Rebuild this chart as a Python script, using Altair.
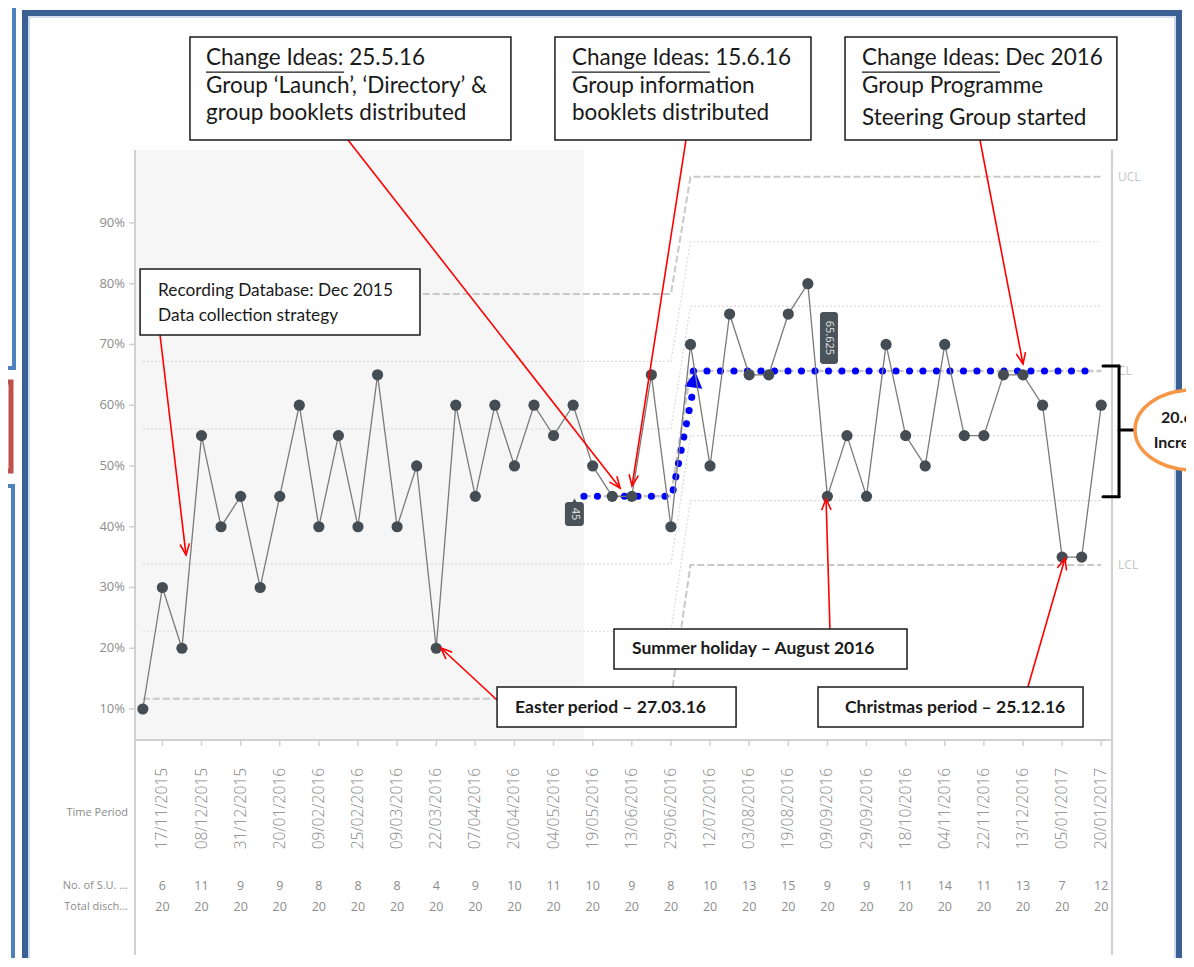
import math
import altair as alt
import pandas as pd

# ---------------- data ----------------
PCT = [10, 30, 20, 55, 40, 45, 30, 45, 60, 40, 55, 40, 65, 40, 50, 20, 60, 45, 60, 50,
       60, 55, 60, 50, 45, 45, 65, 40, 70, 50, 75, 65, 65, 75, 80, 45, 55, 45, 70, 55,
       50, 70, 55, 55, 65, 65, 60, 35, 35, 60]
LABEL_POS = [2, 4, 6, 8, 10, 12, 14, 16, 18, 20, 22, 24, 26, 28, 30, 32, 34, 36, 38, 40,
             42, 44, 46, 48, 50]
DATES = ["17/11/2015", "08/12/2015", "31/12/2015", "20/01/2016", "09/02/2016",
         "25/02/2016", "09/03/2016", "22/03/2016", "07/04/2016", "20/04/2016",
         "04/05/2016", "19/05/2016", "13/06/2016", "29/06/2016", "12/07/2016",
         "03/08/2016", "19/08/2016", "09/09/2016", "29/09/2016", "18/10/2016",
         "04/11/2016", "22/11/2016", "13/12/2016", "05/01/2017", "20/01/2017"]
SU_COUNTS = [6, 11, 9, 9, 8, 8, 8, 4, 9, 10, 11, 10, 9, 8, 10, 13, 15, 9, 9, 11, 14, 11, 13, 7, 12]
TOTALS = [20, 20, 20, 20, 20, 20, 20, 20, 20, 20, 20, 20, 20, 20, 20, 20, 20, 20, 20, 20,
          20, 20, 20, 20, 20]
Y_TICKS = [10, 20, 30, 40, 50, 60, 70, 80, 90]

LEVELS = ["LCL", "-2s", "-1s", "CL", "+1s", "+2s", "UCL"]
PHASE1 = [11.7, 22.8, 33.9, 45.0, 56.1, 67.2, 78.3]
PHASE2 = [33.7, 44.3, 55.0, 65.625, 76.3, 86.9, 97.6]
PHASE1_LAST, PHASE2_FIRST, LAST = 28, 29, 50
BASELINE_END = 23.55

# ---------------- layout ----------------
W, H = 977, 590
X_DOMAIN = [0.6, 50.55]
Y_DOMAIN = [4.9, 102.0]
SX = W / (X_DOMAIN[1] - X_DOMAIN[0])
SY = H / (Y_DOMAIN[1] - Y_DOMAIN[0])
XS = alt.Scale(domain=X_DOMAIN, nice=False, zero=False)
YS = alt.Scale(domain=Y_DOMAIN, nice=False, zero=False)

TXT = "#1a1a1a"
FONT = "Lato"
AXF = "Open Sans"
AXC = "#8c8c8c"
LINEC = "#d0d0d0"


def X(f="x"):
    return alt.X(f"{f}:Q", scale=XS, axis=None)


def Y(f="y"):
    return alt.Y(f"{f}:Q", scale=YS, axis=None)


def rects(rows):
    return pd.DataFrame(rows, columns=["x", "x2", "y", "y2"])


ONE = pd.DataFrame({"a": [0]})

# ---------------- decorative page frame ----------------
frame = alt.Chart(ONE).mark_rect(
    fill="transparent", stroke="#3a6094", strokeWidth=6).encode(
    x=alt.value(-110), x2=alt.value(1044), y=alt.value(-137), y2=alt.value(830))
frame_in = alt.Chart(ONE).mark_rect(
    fill="transparent", stroke="#a9c1df", strokeWidth=1.2).encode(
    x=alt.value(-106), x2=alt.value(1040), y=alt.value(-133), y2=alt.value(830))
side1 = alt.Chart(ONE).mark_rect(
    fill="transparent", stroke="#4f81bd", strokeWidth=4).encode(
    x=alt.value(-150), x2=alt.value(-121), y=alt.value(-160), y2=alt.value(218))
side2 = alt.Chart(ONE).mark_rect(
    fill="transparent", stroke="#c0504d", strokeWidth=5).encode(
    x=alt.value(-150), x2=alt.value(-124), y=alt.value(232), y2=alt.value(321))
side3 = alt.Chart(ONE).mark_rect(
    fill="transparent", stroke="#4f81bd", strokeWidth=4).encode(
    x=alt.value(-150), x2=alt.value(-122), y=alt.value(336), y2=alt.value(840))

# ---------------- shaded baseline ----------------
shade = alt.Chart(rects([[X_DOMAIN[0], BASELINE_END, Y_DOMAIN[0], Y_DOMAIN[1]]])).mark_rect(
    color="#f6f6f6").encode(x=X("x"), x2="x2", y=Y("y"), y2="y2")

# ---------------- axes drawn as marks ----------------
y_dom = alt.Chart(ONE).mark_rule(color=LINEC, strokeWidth=2).encode(
    x=alt.value(0), y=alt.value(0), y2=alt.value(H + 215))
r_dom = alt.Chart(ONE).mark_rule(color=LINEC, strokeWidth=2).encode(
    x=alt.value(W), y=alt.value(0), y2=alt.value(H + 215))
x_dom = alt.Chart(ONE).mark_rule(color=LINEC, strokeWidth=2).encode(
    x=alt.value(0), x2=alt.value(W), y=alt.value(H))
ytk = pd.DataFrame({"v": Y_TICKS, "t": [f"{v}%" for v in Y_TICKS]})
y_ticks = alt.Chart(ytk).mark_rule(color=LINEC, strokeWidth=1.5).encode(
    x=alt.value(-6), x2=alt.value(0), y=Y("v"))
y_labels = alt.Chart(ytk).mark_text(
    align="right", baseline="middle", font=AXF, fontSize=13, color=AXC).encode(
    x=alt.value(-10), y=Y("v"), text="t:N")
xtk = pd.DataFrame({"x": LABEL_POS, "t": DATES})
x_ticks = alt.Chart(xtk).mark_rule(color=LINEC, strokeWidth=1.5).encode(
    x=X("x"), y=alt.value(H), y2=alt.value(H + 6))
x_labels = alt.Chart(xtk).mark_text(
    angle=270, align="right", baseline="middle", font=AXF, fontSize=15.5, fontWeight=300,
    color="#888888").encode(
    x=X("x"), y=alt.value(H + 28), text="t:N")

# ---------------- control limits ----------------
lim_rows = []
for name, v1, v2 in zip(LEVELS, PHASE1, PHASE2):
    start = BASELINE_END if name == "CL" else 1
    kind = "cl" if name == "CL" else ("ctl" if name in ("UCL", "LCL") else "sig")
    for xx, vv in [(start, v1), (PHASE1_LAST, v1), (PHASE2_FIRST, v2), (LAST, v2)]:
        lim_rows.append({"x": xx, "y": vv, "lvl": name, "kind": kind})
lim = pd.DataFrame(lim_rows)

lim_sig = alt.Chart(lim[lim.kind == "sig"]).mark_line(
    color="#d9d9d9", strokeWidth=1.2, strokeDash=[2, 2]).encode(x=X(), y=Y(), detail="lvl:N")
lim_ctl = alt.Chart(lim[lim.kind == "ctl"]).mark_line(
    color="#c9c9c9", strokeWidth=2, strokeDash=[7, 3]).encode(x=X(), y=Y(), detail="lvl:N")
lim_cl = alt.Chart(lim[lim.kind == "cl"]).mark_line(
    color="#c9c9c9", strokeWidth=2.5, strokeDash=[7, 3]).encode(x=X(), y=Y(), detail="lvl:N")

lim_lab = alt.Chart(pd.DataFrame({
    "x": [50.86, 50.86, 50.86],
    "y": [PHASE2[6], PHASE2[3], PHASE2[0]],
    "t": ["UCL", "CL", "LCL"]})).mark_text(
    align="left", baseline="middle", font=AXF, fontSize=12, color="#c4c4c4").encode(
    x=X(), y=Y(), text="t:N")

# ---------------- blue dotted shift line ----------------
blue = pd.DataFrame({
    "x": [BASELINE_END, 28.05, 29.12, 29.15, 49.45],
    "y": [PHASE1[3], PHASE1[3], 62.2, PHASE2[3], PHASE2[3]],
    "seg": ["a", "a", "a", "b", "b"],
    "o": [0, 1, 2, 3, 4]})
blue_line = alt.Chart(blue).mark_line(
    color="#0000ff", strokeWidth=7, strokeDash=[0.1, 13.4], strokeCap="round").encode(
    x=X(), y=Y(), detail="seg:N", order="o:Q")
blue_tri = alt.Chart(pd.DataFrame({"x": [29.2], "y": [64.2]})).mark_point(
    shape="triangle-up", filled=True, color="#0000ff", size=330, opacity=1, angle=8).encode(
    x=X(), y=Y())

# ---------------- data series ----------------
series = pd.DataFrame({"idx": list(range(1, len(PCT) + 1)), "pct": PCT})
data_line = alt.Chart(series).mark_line(color="#7a7a7a", strokeWidth=1.3).encode(
    x=X("idx"), y=Y("pct"))
data_pts = alt.Chart(series).mark_circle(size=125, color="#444d54", opacity=1).encode(
    x=X("idx"), y=Y("pct"))

# value tags
tags = alt.Chart(rects([[22.58, 23.55, 40.12, 44.07], [35.62, 36.54, 66.78, 75.34]])).mark_rect(
    color="#4a5359", cornerRadius=3).encode(x=X("x"), x2="x2", y=Y("y"), y2="y2")
tag_tip = alt.Chart(pd.DataFrame({"x": [23.07], "y": [44.3]})).mark_point(
    shape="triangle-up", filled=True, color="#4a5359", size=25, opacity=1).encode(x=X(), y=Y())
tag_txt = alt.Chart(pd.DataFrame({"x": [23.07, 36.08], "y": [42.1, 71.06],
                                  "t": ["45", "65.625"]})).mark_text(
    angle=90, font=AXF, fontSize=11, color="#e6e6e6", baseline="middle", align="center").encode(
    x=X(), y=Y(), text="t:N")

# ---------------- red arrows ----------------
ARROWS = [
    (1.88, 71.55, 3.21, 35.34),
    (11.49, 103.65, 25.40, 46.37),
    (28.77, 103.65, 26.01, 46.70),
    (43.80, 103.65, 46.0, 66.78),
    (19.11, 11.48, 16.24, 20.04),
    (36.13, 23.17, 35.93, 44.60),
    (46.25, 13.62, 48.15, 34.8),
]
arr_rows = []
for x1, y1, x2, y2 in ARROWS:
    dx = (x2 - x1) * SX
    dy = -(y2 - y1) * SY
    ang = math.degrees(math.atan2(dx, -dy)) % 360
    arr_rows.append({"x": x1, "y": y1, "x2": x2, "y2": y2, "ang": ang})
arr = pd.DataFrame(arr_rows)
arrow_shaft = alt.Chart(arr).mark_rule(color="#ff0000", strokeWidth=1.6).encode(
    x=X("x"), y=Y("y"), x2="x2", y2="y2")
arrow_head = alt.Chart(arr).mark_point(
    shape="M -0.42 1 L 0 0 L 0.42 1", filled=False, color="#ff0000", strokeWidth=1.6,
    size=500, opacity=1).encode(
    x=X("x2"), y=Y("y2"), angle=alt.Angle("ang:Q", scale=None))

# ---------------- annotation boxes ----------------
BOXES = [
    [3.41, 19.82, 103.65, 120.6],
    [22.07, 35.16, 103.65, 120.6],
    [36.90, 50.80, 103.65, 120.6],
    [0.86, 15.17, 71.55, 82.41],
    [19.11, 31.33, 7.04, 13.62],
    [25.09, 40.07, 16.58, 23.17],
    [35.52, 49.07, 7.04, 13.62],
]
boxes = alt.Chart(rects(BOXES)).mark_rect(
    fill="white", stroke=TXT, strokeWidth=1.5).encode(x=X("x"), x2="x2", y=Y("y"), y2="y2")

top_txt = pd.DataFrame([
    (4.23, 117.14, "Change Ideas: 25.5.16"),
    (4.23, 112.53, "Group \u2018Launch\u2019, \u2018Directory\u2019 &"),
    (4.23, 108.09, "group booklets distributed"),
    (22.94, 117.14, "Change Ideas: 15.6.16"),
    (22.94, 112.53, "Group information"),
    (22.94, 108.09, "booklets distributed"),
    (37.77, 117.14, "Change Ideas: Dec 2016"),
    (37.77, 112.53, "Group Programme"),
    (37.77, 107.27, "Steering Group started"),
], columns=["x", "y", "t"])
top_text = alt.Chart(top_txt).mark_text(
    align="left", baseline="middle", font=FONT, fontSize=22.5, color=TXT).encode(
    x=X(), y=Y(), text="t:N")
UL_W = 138 / SX
underl = alt.Chart(pd.DataFrame({"x": [4.23, 22.94, 37.77],
                                 "y": [114.8, 114.8, 114.8]}).assign(x2=lambda d: d.x + UL_W)).mark_rule(
    color=TXT, strokeWidth=1.3).encode(x=X("x"), x2="x2", y=Y("y"))

rec_text = alt.Chart(pd.DataFrame({"x": [1.78, 1.78], "y": [78.79, 74.68],
                                   "t": ["Recording Database: Dec 2015",
                                         "Data collection strategy"]})).mark_text(
    align="left", baseline="middle", font=FONT, fontSize=17.3, color=TXT).encode(
    x=X(), y=Y(), text="t:N")
bold_text = alt.Chart(pd.DataFrame({"x": [20.03, 26.01, 36.90], "y": [10.16, 19.87, 10.16],
                                    "t": ["Easter period \u2013 27.03.16",
                                          "Summer holiday \u2013 August 2016",
                                          "Christmas period \u2013 25.12.16"]})).mark_text(
    align="left", baseline="middle", font=FONT, fontSize=17.5, fontWeight="bold", color=TXT).encode(
    x=X(), y=Y(), text="t:N")

# ---------------- bracket and ellipse ----------------
BR_X1, BR_X2, BR_X3 = 50.09, 50.91, 51.73
BR_TOP, BR_BOT, BR_MID = 66.45, 44.94, 55.9
bracket = alt.Chart(pd.DataFrame({
    "x": [BR_X1, BR_X1, BR_X2, BR_X2],
    "x2": [BR_X2, BR_X2, BR_X2, BR_X3],
    "y": [BR_TOP, BR_BOT, BR_TOP, BR_MID],
    "y2": [BR_TOP, BR_BOT, BR_BOT, BR_MID]})).mark_rule(
    color="black", strokeWidth=3, strokeCap="round").encode(x=X("x"), x2="x2", y=Y("y"), y2="y2")

ELL = ("M -1 0 C -1 -0.3866 -0.5523 -0.7 0 -0.7 C 0.5523 -0.7 1 -0.3866 1 0 "
       "C 1 0.3866 0.5523 0.7 0 0.7 C -0.5523 0.7 -1 0.3866 -1 0 Z")
ellipse = alt.Chart(pd.DataFrame({"x": [54.64], "y": [55.92]})).mark_point(
    shape=ELL, filled=True, fill="white", stroke="#f79646", strokeWidth=3.5,
    size=12996, opacity=1, fillOpacity=1).encode(x=X(), y=Y())
ell_text = alt.Chart(pd.DataFrame({"x": [54.2, 54.2], "y": [57.89, 53.78],
                                   "t": ["20.6%", "Increase"]})).mark_text(
    align="center", baseline="middle", font=FONT, fontSize=16, fontWeight="bold", color=TXT).encode(
    x=X(), y=Y(), text="t:N")

# ---------------- table rows under the axis ----------------
row_lab = alt.Chart(pd.DataFrame({"t": ["Time Period", "No. of S.U. ...", "Total disch..."],
                                  "py": [663, 736, 757]})).mark_text(
    align="right", baseline="middle", font=AXF, fontSize=11, color=AXC).encode(
    x=alt.value(-7), y=alt.Y("py:Q", scale=None, axis=None), text="t:N")
tab = pd.DataFrame({"x": LABEL_POS + LABEL_POS,
                    "t": [str(v) for v in SU_COUNTS] + [str(v) for v in TOTALS],
                    "py": [736] * len(LABEL_POS) + [757] * len(LABEL_POS)})
tab_txt = alt.Chart(tab).mark_text(
    align="center", baseline="middle", font=AXF, fontSize=12.5, color=AXC).encode(
    x=X(), y=alt.Y("py:Q", scale=None, axis=None), text="t:N")

chart = alt.layer(
    frame, frame_in, side1, side2, side3,
    shade, y_dom, r_dom, x_dom, y_ticks, y_labels, x_ticks, x_labels,
    lim_sig, lim_ctl, lim_cl, lim_lab,
    blue_line, blue_tri,
    data_line, data_pts,
    tags, tag_tip, tag_txt,
    arrow_shaft, arrow_head,
    boxes, top_text, underl, rec_text, bold_text,
    bracket, ellipse, ell_text,
    row_lab, tab_txt,
).properties(
    width=W, height=H,
    autosize=alt.AutoSizeParams(type="none"),
    padding={"left": 127, "top": 142, "right": 74, "bottom": 218},
    background="white",
).configure_view(strokeWidth=0)

chart.save("out.html", embed_options={"renderer": "svg", "actions": False})
